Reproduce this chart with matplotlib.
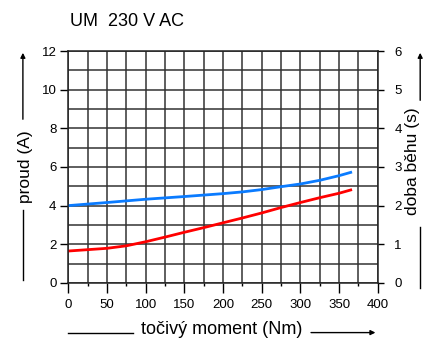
import matplotlib
matplotlib.use("Agg")
import matplotlib.pyplot as plt
import numpy as np

plt.rcParams["font.family"] = ["Liberation Sans", "DejaVu Sans"]

# torque (Nm) vs current (A) -- blue
torque_blue = [0, 50, 100, 150, 200, 225, 250, 275, 300, 325, 350, 365]
current_blue = [4.0, 4.16, 4.33, 4.47, 4.62, 4.71, 4.83, 4.98, 5.12, 5.31, 5.55, 5.72]

# torque (Nm) vs run time, drawn on the current scale -- red
torque_red = [0, 50, 75, 100, 125, 150, 175, 200, 225, 250, 275, 300, 325, 350, 365]
current_red = [1.65, 1.79, 1.92, 2.13, 2.37, 2.62, 2.86, 3.11, 3.36, 3.62, 3.9, 4.16, 4.41, 4.64, 4.81]

x_ticks = [0, 50, 100, 150, 200, 250, 300, 350, 400]
left_ticks = [0, 2, 4, 6, 8, 10, 12]
right_ticks = [0, 1, 2, 3, 4, 5, 6]

title = "UM  230 V AC"
xlabel = "točivý moment (Nm)"
ylabel_left = "proud (A)"
ylabel_right = "doba běhu (s)"

fig = plt.figure(figsize=(4.24, 3.38), dpi=100)
ax = fig.add_axes([0.161, 0.163, 0.730, 0.686])

ax.set_xlim(0, 400)
ax.set_ylim(0, 12)
ax.set_xticks(x_ticks)
ax.set_xticks(np.arange(0, 401, 25), minor=True)
ax.set_yticks(left_ticks)
ax.set_yticks(np.arange(0, 13, 1), minor=True)
ax.grid(True, which="both", color="#333333", lw=1.1)
ax.set_axisbelow(True)
ax.tick_params(axis="y", which="major", length=6, width=1, labelsize=9.5, pad=2.5)
ax.tick_params(axis="x", which="major", length=7.5, width=1, labelsize=9.5, pad=4)
ax.tick_params(axis="y", which="minor", length=0)
ax.tick_params(axis="x", which="minor", length=2.5, width=1)
for s in ax.spines.values():
    s.set_linewidth(1.1)
    s.set_color("#222222")

ax.plot(torque_blue, current_blue, color="#0a7bff", lw=2)
ax.plot(torque_red, current_red, color="#ff0000", lw=2)

ax2 = ax.twinx()
ax2.set_ylim(0, 6)
ax2.set_yticks(right_ticks)
ax2.tick_params(length=4, width=1, labelsize=9.5, pad=8)
for s in ax2.spines.values():
    s.set_visible(False)

fig.text(0.165, 0.935, title, fontsize=13, ha="left", va="center")

# axis labels with arrow lines
ax_kw = dict(xycoords="figure fraction", textcoords="figure fraction")
arrow = dict(arrowstyle="-|>", color="k", lw=1, mutation_scale=7)

fig.text(0.059, 0.506, ylabel_left, rotation=90, fontsize=12.5, ha="center", va="center")
fig.add_artist(plt.Line2D([0.054, 0.054], [0.172, 0.379], color="k", lw=1))
ax.annotate("", xy=(0.054, 0.852), xytext=(0.054, 0.639), arrowprops=arrow, **ax_kw)

fig.text(0.974, 0.524, ylabel_right, rotation=90, fontsize=12.5, ha="center", va="center")
fig.add_artist(plt.Line2D([0.991, 0.991], [0.148, 0.328], color="k", lw=1))
ax.annotate("", xy=(0.991, 0.852), xytext=(0.991, 0.695), arrowprops=arrow, **ax_kw)

fig.text(0.524, 0.026, xlabel, fontsize=13, ha="center", va="center")
fig.add_artist(plt.Line2D([0.161, 0.314], [0.016, 0.016], color="k", lw=1))
ax.annotate("", xy=(0.892, 0.016), xytext=(0.727, 0.016), arrowprops=arrow, **ax_kw)

fig.savefig("out.png", dpi=100)
